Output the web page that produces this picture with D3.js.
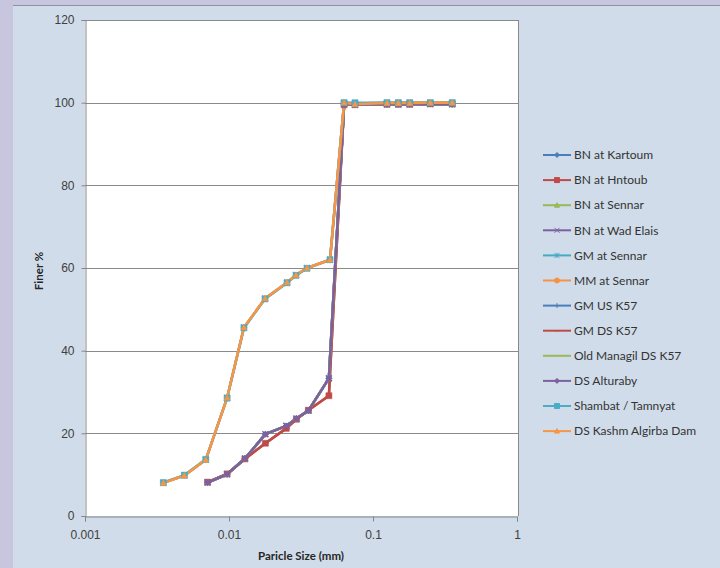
<!DOCTYPE html>
<html>
<head>
<meta charset="utf-8">
<script src="https://cdn.jsdelivr.net/npm/d3@7"></script>
<style>
    body { margin: 0; background: #c8c6de; }
    svg { display: block; font-family: Lato, "Open Sans", sans-serif; }
</style>
</head>
<body>
<svg id="chart" width="720" height="568"></svg>
<script>
// Particle sizes (mm) for the two groups of samples
var sizesFine = [0.0035, 0.0049, 0.0069, 0.0097, 0.0127, 0.0178, 0.0253, 0.0292, 0.0348, 0.0503, 0.063, 0.075, 0.125, 0.15, 0.18, 0.25, 0.355];
var sizesCoarse = [0.0071, 0.0097, 0.0129, 0.0179, 0.025, 0.0294, 0.0356, 0.0494, 0.063, 0.075, 0.125, 0.15, 0.18, 0.25, 0.355];

var seriesNames = ["BN at Kartoum", "BN at Hntoub", "BN at Sennar", "BN at Wad Elais",
    "GM at Sennar", "MM at Sennar", "GM US K57", "GM DS K57", "Old Managil DS K57",
    "DS Alturaby", "Shambat / Tamnyat", "DS Kashm Algirba Dam"];
var seriesColors = ["#4a7ebb", "#be4b48", "#98b954", "#7d60a0", "#46aac5", "#f69240",
    "#4a7ebb", "#be4b48", "#98b954", "#7d60a0", "#4bacc6", "#f79646"];
var seriesMarkers = ["diamond", "square", "triangle", "cross", "star", "circle",
    "plus", "dash", "none", "diamond", "square", "triangle"];
var seriesGroup = ["coarse", "coarse", "coarse", "coarse", "fine", "fine",
    "coarse", "coarse", "coarse", "coarse", "fine", "fine"];

// Finer % per series
var finerBNKartoum = [8.1, 10.1, 13.9, 19.8, 21.8, 23.6, 25.5, 33.3, 99.6, 99.5, 99.6, 99.6, 99.6, 99.7, 99.6];
var finerBNHntoub = [8.2, 10.2, 13.8, 17.6, 21.2, 23.4, 25.6, 29.1, 99.5, 99.5, 99.6, 99.6, 99.6, 99.7, 99.7];
var finerBNSennar = [8.1, 10.1, 13.9, 19.8, 21.8, 23.6, 25.5, 33.3, 99.6, 99.5, 99.6, 99.6, 99.6, 99.7, 99.6];
var finerBNWadElais = [8.1, 10.1, 13.9, 19.8, 21.8, 23.6, 25.5, 33.3, 99.6, 99.5, 99.6, 99.6, 99.6, 99.7, 99.6];
var finerGMSennar = [8.0, 9.8, 13.6, 28.6, 45.6, 52.6, 56.5, 58.3, 60.0, 62.0, 100, 99.8, 100, 100, 100, 100, 100];
var finerMMSennar = [8.0, 9.8, 13.6, 28.6, 45.6, 52.6, 56.5, 58.3, 60.0, 62.0, 100, 99.8, 100, 100, 100, 100, 100];
var finerGMUSK57 = [8.1, 10.1, 13.9, 19.8, 21.8, 23.6, 25.5, 33.3, 99.6, 99.5, 99.6, 99.6, 99.6, 99.7, 99.6];
var finerGMDSK57 = [8.2, 10.2, 13.8, 17.6, 21.2, 23.4, 25.6, 29.1, 99.5, 99.5, 99.6, 99.6, 99.6, 99.7, 99.7];
var finerOldManagil = [8.1, 10.1, 13.9, 19.8, 21.8, 23.6, 25.5, 33.3, 99.6, 99.5, 99.6, 99.6, 99.6, 99.7, 99.6];
var finerDSAlturaby = [8.1, 10.1, 13.9, 19.8, 21.8, 23.6, 25.5, 33.3, 99.6, 99.5, 99.6, 99.6, 99.6, 99.7, 99.6];
var finerShambat = [8.1, 9.9, 13.7, 28.5, 45.5, 52.5, 56.4, 58.2, 59.9, 62.0, 100, 100, 100, 100, 100, 100, 100];
var finerKashm = [8.0, 9.8, 13.6, 28.6, 45.6, 52.6, 56.5, 58.3, 60.0, 62.0, 100, 99.6, 99.9, 99.9, 99.9, 100, 100];

var seriesValues = [finerBNKartoum, finerBNHntoub, finerBNSennar, finerBNWadElais,
    finerGMSennar, finerMMSennar, finerGMUSK57, finerGMDSK57, finerOldManagil,
    finerDSAlturaby, finerShambat, finerKashm];

var xTicks = [0.001, 0.01, 0.1, 1];
var yTicks = [0, 20, 40, 60, 80, 100, 120];

var svg = d3.select("#chart");

// chart area background with the grey top edge
svg.append("rect")
    .attr("x", 13).attr("y", 5)
    .attr("width", 707).attr("height", 563)
    .attr("fill", "#d0dce9");
svg.append("line")
    .attr("x1", 13).attr("x2", 720)
    .attr("y1", 5.5).attr("y2", 5.5)
    .attr("stroke", "#8c91a3");

var plot = {left: 85, right: 517, top: 20, bottom: 516};

var xScale = d3.scaleLog()
    .domain([0.001, 1])
    .range([plot.left, plot.right]);

var yScale = d3.scaleLinear()
    .domain([0, 120])
    .range([plot.bottom, plot.top]);

// white plot area
svg.append("rect")
    .attr("x", plot.left).attr("y", plot.top)
    .attr("width", plot.right - plot.left + 1)
    .attr("height", plot.bottom - plot.top)
    .attr("fill", "#ffffff");

// horizontal gridlines
svg.append("g")
    .selectAll("line")
    .data(yTicks.filter(function (d) { return d > 0; }))
    .enter()
    .append("line")
    .attr("x1", plot.left).attr("x2", plot.right + 1)
    .attr("y1", function (d) { return Math.round(yScale(d)) + 0.5; })
    .attr("y2", function (d) { return Math.round(yScale(d)) + 0.5; })
    .attr("stroke", "#8a8a8a");

// right border of the plot
svg.append("line")
    .attr("x1", plot.right + 1.5).attr("x2", plot.right + 1.5)
    .attr("y1", plot.top).attr("y2", plot.bottom)
    .attr("stroke", "#8a8a8a");

// axes
var xAxis = d3.axisBottom(xScale)
    .tickValues(xTicks)
    .tickFormat(function (d) { return String(d); })
    .tickSize(5)
    .tickPadding(9);

var yAxis = d3.axisLeft(yScale)
    .tickValues(yTicks)
    .tickSize(4)
    .tickPadding(7);

svg.append("g")
    .attr("transform", "translate(0," + (plot.bottom + 0.5) + ")")
    .call(xAxis);

svg.append("g")
    .attr("transform", "translate(" + (plot.left + 0.5) + ",0)")
    .call(yAxis);

svg.selectAll(".domain, .tick line").attr("stroke", "#868686");
svg.selectAll(".tick text")
    .attr("fill", "#404040")
    .style("font-size", "12px");

// axis titles
svg.append("text")
    .attr("x", 301).attr("y", 560)
    .attr("text-anchor", "middle")
    .style("font-size", "11.5px")
    .style("font-weight", "bold")
    .attr("fill", "#262626")
    .text("Paricle Size (mm)");

svg.append("text")
    .attr("transform", "translate(43,271) rotate(-90)")
    .attr("text-anchor", "middle")
    .style("font-size", "11.5px")
    .style("font-weight", "bold")
    .attr("fill", "#262626")
    .text("Finer %");

// build series rows
var series = seriesNames.map(function (name, i) {
    var sizes = seriesGroup[i] === "fine" ? sizesFine : sizesCoarse;
    return {
        name: name,
        color: seriesColors[i],
        marker: seriesMarkers[i],
        points: seriesValues[i].map(function (v, j) { return {x: sizes[j], y: v}; })
    };
});

var line = d3.line()
    .x(function (d) { return xScale(d.x); })
    .y(function (d) { return yScale(d.y); });

// marker shapes
function markerPath(type, size) {
    var s = size;
    if (type === "diamond") return "M0," + (-s) + "L" + s + ",0L0," + s + "L" + (-s) + ",0Z";
    if (type === "square") return "M" + (-s) + "," + (-s) + "h" + (2 * s) + "v" + (2 * s) + "h" + (-2 * s) + "Z";
    if (type === "triangle") return "M0," + (-s) + "L" + s + "," + (s * 0.8) + "L" + (-s) + "," + (s * 0.8) + "Z";
    if (type === "circle") return d3.symbol(d3.symbolCircle, Math.PI * s * s)();
    if (type === "cross") return "M" + (-s) + "," + (-s) + "L" + s + "," + s + "M" + (-s) + "," + s + "L" + s + "," + (-s);
    if (type === "star") return "M" + (-s) + "," + (-s) + "L" + s + "," + s + "M" + (-s) + "," + s + "L" + s + "," + (-s) + "M0," + (-s) + "V" + s;
    if (type === "plus") return "M" + (-s) + ",0H" + s + "M0," + (-s) + "V" + s;
    if (type === "dash") return "M" + (-s) + ",0H" + s;
    return "";
}

function isOpenMarker(type) {
    return type === "cross" || type === "star" || type === "plus" || type === "dash";
}

var lineLayer = svg.append("g");
var markerLayer = svg.append("g");

lineLayer.selectAll("path")
    .data(series)
    .enter()
    .append("path")
    .attr("d", function (d) { return line(d.points); })
    .attr("fill", "none")
    .attr("stroke", function (d) { return d.color; })
    .attr("stroke-width", 2.5)
    .attr("stroke-linejoin", "round");

series.forEach(function (s) {
    if (s.marker === "none") return;
    markerLayer.append("g")
        .selectAll("path")
        .data(s.points)
        .enter()
        .append("path")
        .attr("transform", function (d) { return "translate(" + xScale(d.x) + "," + yScale(d.y) + ")"; })
        .attr("d", markerPath(s.marker, 3))
        .attr("fill", isOpenMarker(s.marker) ? "none" : s.color)
        .attr("stroke", s.color)
        .attr("stroke-width", isOpenMarker(s.marker) ? 1.5 : 0.5);
});

// legend
var legend = svg.append("g")
    .selectAll("g")
    .data(series)
    .enter()
    .append("g")
    .attr("transform", function (d, i) { return "translate(543," + (155 + i * 25.1) + ")"; });

legend.append("line")
    .attr("x1", 0).attr("x2", 28)
    .attr("stroke", function (d) { return d.color; })
    .attr("stroke-width", 2);

legend.append("path")
    .attr("transform", "translate(14,0)")
    .attr("d", function (d) { return markerPath(d.marker, 2.5); })
    .attr("fill", function (d) { return isOpenMarker(d.marker) ? "none" : d.color; })
    .attr("stroke", function (d) { return d.color; })
    .attr("stroke-width", 1);

legend.append("text")
    .attr("x", 31)
    .attr("dy", "0.35em")
    .style("font-size", "12px")
    .attr("fill", "#333333")
    .text(function (d) { return d.name; });
</script>
</body>
</html>
